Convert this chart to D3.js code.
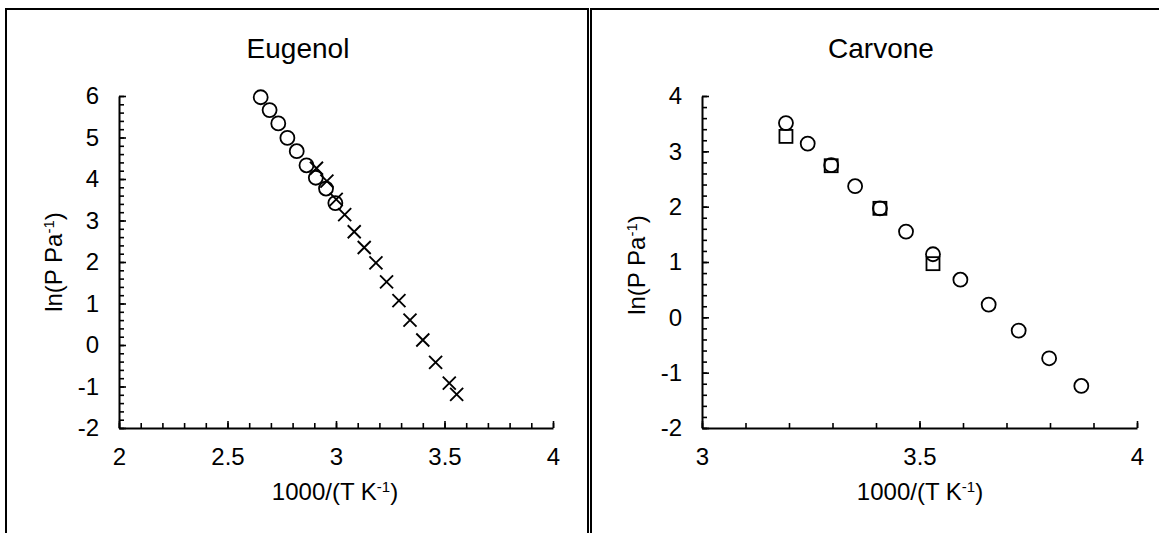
<!DOCTYPE html>
<html>
<head>
<meta charset="utf-8">
<script src="https://cdn.jsdelivr.net/npm/d3@7"></script>
<style>
  body { margin: 0; background: #fff; }
  text { font-family: "Liberation Sans", Arial, sans-serif; fill: #000; }
</style>
</head>
<body>
<div id="container"></div>
<script>
/* DATA */
const eugenolCircleX = [2.653, 2.694, 2.734, 2.776, 2.819, 2.864, 2.907, 2.954, 2.997];
const eugenolCircleY = [5.97, 5.66, 5.34, 4.99, 4.67, 4.33, 4.03, 3.77, 3.42];
const eugenolCrossX = [2.910, 2.958, 3.001, 3.040, 3.084, 3.130, 3.184, 3.233, 3.290, 3.341, 3.400, 3.459, 3.522, 3.556];
const eugenolCrossY = [4.26, 3.95, 3.51, 3.14, 2.73, 2.35, 1.98, 1.52, 1.07, 0.60, 0.12, -0.42, -0.92, -1.19];

const carvoneCircleX = [3.193, 3.243, 3.297, 3.352, 3.409, 3.469, 3.531, 3.594, 3.659, 3.728, 3.798, 3.872];
const carvoneCircleY = [3.51, 3.14, 2.75, 2.37, 1.97, 1.55, 1.14, 0.68, 0.23, -0.24, -0.74, -1.24];
const carvoneSquareX = [3.193, 3.297, 3.409, 3.531];
const carvoneSquareY = [3.27, 2.74, 1.97, 0.97];

const eugenolXTicks = [2, 2.5, 3, 3.5, 4];
const eugenolYTicks = [-2, -1, 0, 1, 2, 3, 4, 5, 6];
const carvoneXTicks = [3, 3.5, 4];
const carvoneYTicks = [-2, -1, 0, 1, 2, 3, 4];

/* CONSTANTS */
const width = 1159, height = 533;

const svg = d3.select("#container")
  .append("svg")
  .attr("width", width)
  .attr("height", height);

// panel frames
svg.append("path")
  .attr("d", "M6,533V9H588V533")
  .attr("fill", "none").attr("stroke", "#000").attr("stroke-width", 2);
svg.append("path")
  .attr("d", "M591,533V9H1159")
  .attr("fill", "none").attr("stroke", "#000").attr("stroke-width", 2);

const zip = (xs, ys) => xs.map((x, i) => ({ x: x, y: ys[i] }));

function minorTicks(domain, step) {
  const out = [];
  const n = Math.round((domain[1] - domain[0]) / step);
  for (let i = 0; i <= n; i++) out.push(+(domain[0] + i * step).toFixed(3));
  return out;
}

function drawPanel(p) {
  const xScale = d3.scaleLinear().domain(p.xDomain).range([p.left, p.right]);
  const yScale = d3.scaleLinear().domain(p.yDomain).range([p.bottom, p.top]);

  const g = svg.append("g");

  // minor ticks
  g.append("g")
    .attr("transform", `translate(0,${p.bottom})`)
    .call(d3.axisBottom(xScale).tickValues(minorTicks(p.xDomain, 0.1)).tickSize(-5).tickFormat(""))
    .call(a => a.select(".domain").remove());
  g.append("g")
    .attr("transform", `translate(${p.left},0)`)
    .call(d3.axisLeft(yScale).tickValues(minorTicks(p.yDomain, 0.2)).tickSize(-5).tickFormat(""))
    .call(a => a.select(".domain").remove());

  // major axes
  const xAxisGroup = g.append("g")
    .attr("transform", `translate(0,${p.bottom})`)
    .call(d3.axisBottom(xScale).tickValues(p.xTicks).tickSizeInner(-7).tickSizeOuter(0)
      .tickFormat(d => String(d)));
  const yAxisGroup = g.append("g")
    .attr("transform", `translate(${p.left},0)`)
    .call(d3.axisLeft(yScale).tickValues(p.yTicks).tickSizeInner(-7).tickSizeOuter(0)
      .tickFormat(d => String(d)));

  g.selectAll(".tick line").attr("stroke", "#000").attr("stroke-width", 1.6);
  g.selectAll(".domain").attr("stroke", "#000").attr("stroke-width", 2);
  g.selectAll(".tick text").attr("font-family", null).attr("font-size", null);
  xAxisGroup.selectAll("text").style("font-size", "24px").attr("dy", "0.71em").attr("y", 20);
  yAxisGroup.selectAll("text").style("font-size", "24px").attr("x", -20);

  // title
  g.append("text")
    .attr("x", p.titleX).attr("y", 58)
    .attr("text-anchor", "middle")
    .style("font-size", "28px")
    .text(p.title);

  // x title
  const xt = g.append("text")
    .attr("x", p.xTitleX).attr("y", 500)
    .attr("text-anchor", "middle")
    .style("font-size", "24px");
  xt.append("tspan").text("1000/(T K");
  xt.append("tspan").attr("baseline-shift", "super").style("font-size", "15px").text("-1");
  xt.append("tspan").text(")");

  // y title
  const yt = g.append("text")
    .attr("transform", `translate(${p.yTitleX},${p.yTitleY}) rotate(-90)`)
    .attr("text-anchor", "middle")
    .style("font-size", "24px");
  yt.append("tspan").text("ln(P Pa");
  yt.append("tspan").attr("baseline-shift", "super").style("font-size", "15px").text("-1");
  yt.append("tspan").text(")");

  // marks
  p.series.forEach(s => {
    const pts = zip(s.x, s.y);
    if (s.shape === "circle") {
      g.selectAll(null).data(pts).enter().append("circle")
        .attr("cx", d => xScale(d.x)).attr("cy", d => yScale(d.y))
        .attr("r", 7)
        .attr("fill", "none").attr("stroke", "#000").attr("stroke-width", 1.8);
    } else if (s.shape === "square") {
      g.selectAll(null).data(pts).enter().append("rect")
        .attr("x", d => xScale(d.x) - 6.5).attr("y", d => yScale(d.y) - 6.5)
        .attr("width", 13).attr("height", 13)
        .attr("fill", "none").attr("stroke", "#000").attr("stroke-width", 1.8);
    } else {
      g.selectAll(null).data(pts).enter().append("path")
        .attr("d", d => {
          const cx = xScale(d.x), cy = yScale(d.y), r = 6.5;
          return `M${cx - r},${cy - r}L${cx + r},${cy + r}M${cx - r},${cy + r}L${cx + r},${cy - r}`;
        })
        .attr("fill", "none").attr("stroke", "#000").attr("stroke-width", 1.9);
    }
  });
}

drawPanel({
  title: "Eugenol",
  xDomain: [2, 4], yDomain: [-2, 6],
  left: 119, right: 553, top: 96, bottom: 428,
  xTicks: eugenolXTicks, yTicks: eugenolYTicks,
  titleX: 298, xTitleX: 335, yTitleX: 62, yTitleY: 262,
  series: [
    { shape: "circle", x: eugenolCircleX, y: eugenolCircleY },
    { shape: "cross", x: eugenolCrossX, y: eugenolCrossY }
  ]
});

drawPanel({
  title: "Carvone",
  xDomain: [3, 4], yDomain: [-2, 4],
  left: 702, right: 1137, top: 96, bottom: 428,
  xTicks: carvoneXTicks, yTicks: carvoneYTicks,
  titleX: 881, xTitleX: 920, yTitleX: 645, yTitleY: 265,
  series: [
    { shape: "circle", x: carvoneCircleX, y: carvoneCircleY },
    { shape: "square", x: carvoneSquareX, y: carvoneSquareY }
  ]
});
</script>
</body>
</html>
